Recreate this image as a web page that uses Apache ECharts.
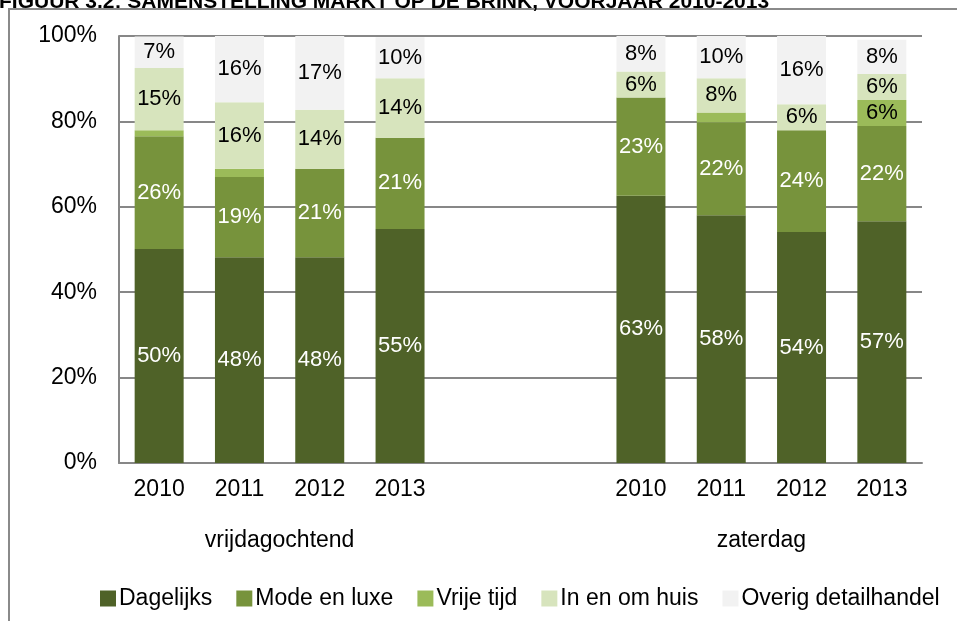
<!DOCTYPE html>
<html>
<head>
<meta charset="utf-8">
<script src="https://cdn.jsdelivr.net/npm/echarts@6/dist/echarts.min.js"></script>
<style>
html,body{margin:0;padding:0;background:#fff;}
#chart{width:957px;height:621px;}
</style>
</head>
<body>
<div id="chart"></div>
<script>
var categories = ['2010','2011','2012','2013','','','2010','2011','2012','2013'];
var groupLabels = ['', '', 'vrijdagochtend', '', '', '', '', '', 'zaterdag', '', ''];
var yTicks = [0, 20, 40, 60, 80, 100];
var seriesNames = ['Dagelijks','Mode en luxe','Vrije tijd','In en om huis','Overig detailhandel'];

var dagelijks = [50.1, 48.2, 48.2, 54.8, null, null, 62.6, 58.0, 54.1, 56.6];
var modeEnLuxe = [26.4, 18.8, 20.7, 21.4, null, null, 23.0, 21.8, 23.8, 22.3];
var vrijeTijd = [1.4, 1.9, 0, 0, null, null, 0, 2.3, 0, 6.1];
var inEnOmHuis = [14.6, 15.6, 13.8, 13.9, null, null, 6.1, 8.0, 6.1, 6.1];
var overig = [7.4, 15.5, 17.3, 9.6, null, null, 8.3, 9.9, 16.0, 8.0];

var seriesData = [dagelijks, modeEnLuxe, vrijeTijd, inEnOmHuis, overig];
var colors = ['#4F6228', '#77933C', '#9BBB59', '#D7E4BD', '#F2F2F2'];
var labelColors = ['#ffffff', '#ffffff', '#000000', '#000000', '#000000'];

var FONT = "'Liberation Sans', Arial, sans-serif";
var chart = echarts.init(document.getElementById('chart'), null, {renderer: 'canvas'});

var series = seriesNames.map(function (name, i) {
  return {
    name: name,
    type: 'bar',
    stack: 'total',
    barWidth: '61%',
    xAxisIndex: 0,
    data: seriesData[i],
    itemStyle: {color: colors[i]},
    label: {
      show: true,
      position: 'inside',
      color: labelColors[i],
      fontSize: 22,
      fontFamily: FONT,
      formatter: function (p) {
        if (p.value == null || p.value < 3) return '';
        return Math.round(p.value) + '%';
      }
    },
    emphasis: {disabled: true},
    animation: false
  };
});

chart.setOption({
  animation: false,
  color: colors,
  title: {
    text: 'FIGUUR 3.2: SAMENSTELLING MARKT OP DE BRINK, VOORJAAR 2010-2013',
    left: -6,
    top: -13,
    textStyle: {fontSize: 21, fontWeight: 'bold', fontFamily: FONT, color: '#000'}
  },
  graphic: [{
    type: 'rect',
    shape: {x: 9, y: 9, width: 1000, height: 1000},
    style: {fill: 'none', stroke: '#8a8a8a', lineWidth: 2},
    silent: true,
    z: -1
  }],
  grid: {left: 119, right: 35, top: 36, bottom: 158, containLabel: false},
  legend: {
    bottom: 6,
    left: 95,
    itemWidth: 16,
    itemHeight: 16,
    itemGap: 24,
    icon: 'rect',
    data: seriesNames,
    textStyle: {fontSize: 23, fontFamily: FONT, color: '#000', padding: [0, 0, 0, -2]}
  },
  xAxis: [{
    type: 'category',
    data: categories,
    position: 'bottom',
    axisLine: {show: true, lineStyle: {color: '#878787', width: 2}},
    axisTick: {show: false},
    axisLabel: {fontSize: 23, fontFamily: FONT, color: '#000', margin: 15, interval: 0}
  }, {
    type: 'category',
    data: groupLabels,
    position: 'bottom',
    boundaryGap: false,
    axisLine: {show: false},
    axisTick: {show: false},
    splitLine: {show: false},
    axisLabel: {fontSize: 23, fontFamily: FONT, color: '#000', margin: 66, interval: 0}
  }],
  yAxis: {
    type: 'value',
    min: yTicks[0],
    max: yTicks[yTicks.length - 1],
    interval: 20,
    axisLine: {show: true, lineStyle: {color: '#878787', width: 2}},
    axisTick: {show: false},
    splitLine: {show: true, lineStyle: {color: '#878787', width: 2}},
    axisLabel: {fontSize: 23, fontFamily: FONT, color: '#000', margin: 22, formatter: '{value}%'}
  },
  series: series
});
</script>
</body>
</html>
